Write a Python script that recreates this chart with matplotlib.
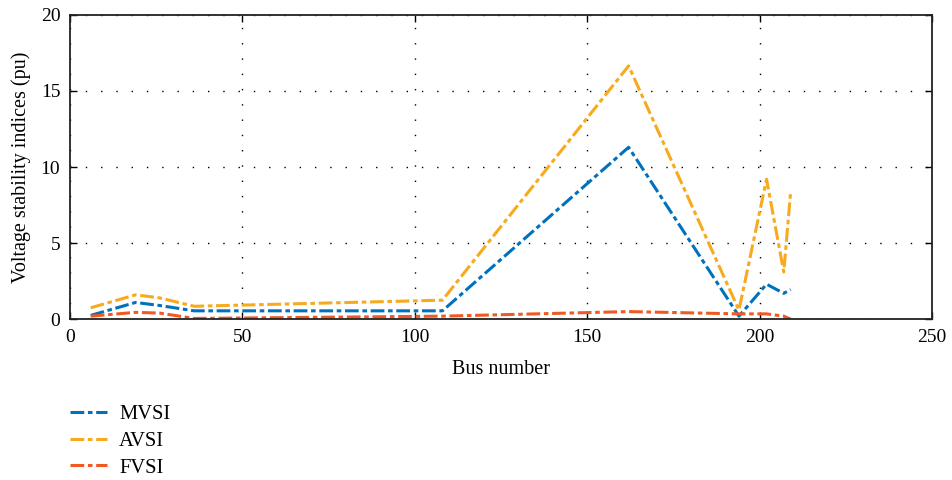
import matplotlib
matplotlib.use("Agg")
import matplotlib.pyplot as plt

bus = [6, 19, 26, 36, 108, 162, 194, 202, 207, 209]
mvsi = [0.25, 1.1, 0.9, 0.55, 0.55, 11.3, 0.2, 2.3, 1.7, 1.95]
avsi = [0.75, 1.6, 1.4, 0.85, 1.25, 16.65, 0.6, 9.2, 3.1, 8.4]
fvsi = [0.2, 0.45, 0.4, 0.05, 0.2, 0.5, 0.35, 0.35, 0.2, 0.0]
labels = ["MVSI", "AVSI", "FVSI"]
colors = ["#0072BD", "#F8AA1E", "#F05A22"]

plt.rcParams['font.family'] = ['Liberation Serif', 'DejaVu Serif']
plt.rcParams['font.size'] = 14

fig = plt.figure(figsize=(9.53, 4.8), dpi=100)
ax = fig.add_axes([0.0735, 0.335, 0.9045, 0.634])

dash = (0, (4.5, 1.2, 1.5, 1.2))
for y, lab, c in zip([mvsi, avsi, fvsi], labels, colors):
    ax.plot(bus, y, linestyle=dash, color=c, linewidth=2.2, label=lab)

ax.set_xlim(0, 250)
ax.set_ylim(0, 20)
ax.set_xticks(range(0, 251, 50))
ax.set_yticks(range(0, 21, 5))
ax.grid(True, linestyle=(0, (1, 10)), color='black', linewidth=1.0)
ax.tick_params(direction='in', top=True, right=True, length=5, width=1,
               labelsize=14, pad=7)
for s in ax.spines.values():
    s.set_linewidth(1.3)
    s.set_color('#222222')
ax.set_xlabel("Bus number", labelpad=10, fontsize=14.5)
ax.set_ylabel("Voltage stability indices (pu)", labelpad=7, fontsize=14.5)

leg = fig.legend(loc='upper left', bbox_to_anchor=(0.058, 0.186), frameon=False,
                 handlelength=1.8, labelspacing=0.35, handletextpad=0.6,
                 fontsize=14.8, borderpad=0.2)

fig.savefig("out.png", dpi=100)
